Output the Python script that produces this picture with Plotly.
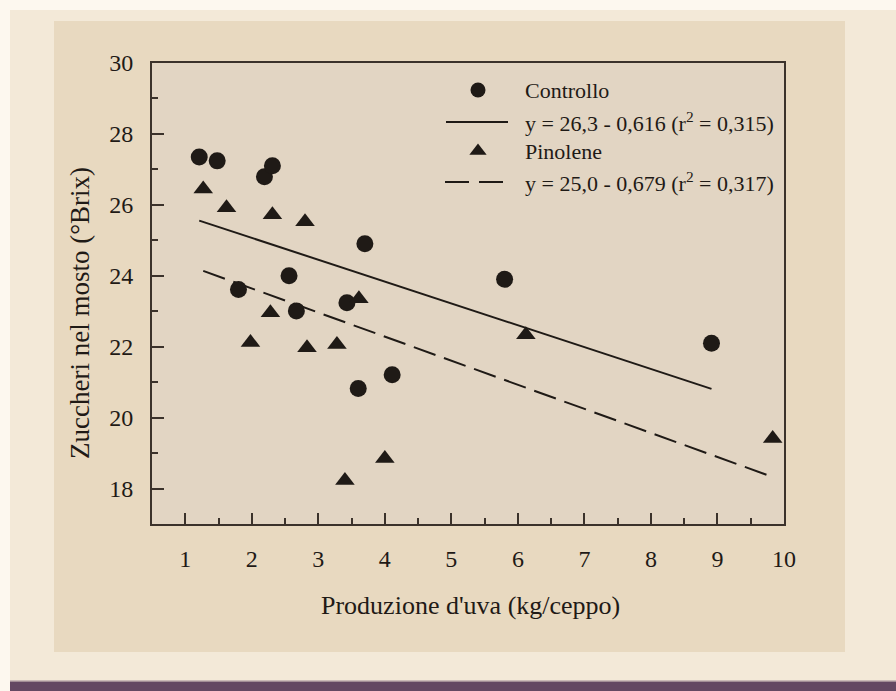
import plotly.graph_objects as go

# ---------------- data ----------------
ctrl_x = [1.21, 1.48, 2.19, 2.31, 1.80, 2.56, 2.67, 3.43, 3.70, 3.60, 4.11, 5.80, 8.91]
ctrl_y = [27.35, 27.24, 26.79, 27.10, 23.61, 24.00, 23.01, 23.24, 24.90, 20.82, 21.21, 23.90, 22.10]
pino_x = [1.27, 1.62, 2.31, 2.80, 3.61, 2.28, 1.98, 2.83, 3.28, 4.00, 3.40, 6.12, 9.83]
pino_y = [26.45, 25.92, 25.72, 25.52, 23.35, 22.96, 22.12, 21.97, 22.06, 18.85, 18.23, 22.34, 19.41]
reg_ctrl = [26.3, -0.616]   # intercept, slope
reg_pino = [25.0, -0.679]
x_ticks = [1, 2, 3, 4, 5, 6, 7, 8, 9, 10]
y_ticks = [18, 20, 22, 24, 26, 28, 30]
legend_labels = ["Controllo", "y = 26,3 - 0,616 (r<sup>2</sup> = 0,315)",
                 "Pinolene", "y = 25,0 - 0,679 (r<sup>2</sup> = 0,317)"]
x_title = "Produzione d'uva (kg/ceppo)"
y_title = "Zuccheri nel mosto (°Brix)"

# ---------------- layout geometry ----------------
W, H = 896, 691
L, R, T, B = 152, 784, 63, 524
FONT = "Liberation Serif"
INK = "#1f1a16"
AX = "#3b322b"


def px(xp):
    return (xp - L) / (R - L)


def py(yp):
    return (B - yp) / (B - T)


fig = go.Figure()

# regression lines
def reg_line(xs, coef):
    x0, x1 = min(xs), max(xs)
    return [x0, x1], [coef[0] + coef[1] * x0, coef[0] + coef[1] * x1]

lx, ly = reg_line(ctrl_x, reg_ctrl)
fig.add_trace(go.Scatter(x=lx, y=ly, mode="lines", line=dict(color=INK, width=2),
                         showlegend=False, hoverinfo="skip"))
lx, ly = reg_line(pino_x, reg_pino)
fig.add_trace(go.Scatter(x=lx, y=ly, mode="lines", line=dict(color=INK, width=2, dash="23px,9px"),
                         showlegend=False, hoverinfo="skip"))

fig.add_trace(go.Scatter(x=ctrl_x, y=ctrl_y, mode="markers",
                         marker=dict(symbol="circle", size=17, color=INK),
                         showlegend=False, name="Controllo"))
fig.add_trace(go.Scatter(x=pino_x, y=pino_y, mode="markers",
                         marker=dict(symbol="triangle-up", size=17, color=INK),
                         showlegend=False, name="Pinolene"))

# ---- custom legend on a pixel-based overlay axis ----
leg_sym_x = 478
leg_text_x = 523
leg_rows = [90, 122, 151, 182]
fig.add_trace(go.Scatter(x=[leg_sym_x], y=[leg_rows[0]], xaxis="x2", yaxis="y2", mode="markers",
                         marker=dict(symbol="circle", size=15, color=INK),
                         showlegend=False, hoverinfo="skip"))
fig.add_trace(go.Scatter(x=[leg_sym_x], y=[leg_rows[2]], xaxis="x2", yaxis="y2", mode="markers",
                         marker=dict(symbol="triangle-up", size=15, color=INK),
                         showlegend=False, hoverinfo="skip"))

shapes = []
# backgrounds
shapes.append(dict(type="rect", xref="paper", yref="paper", x0=px(10), x1=px(896), y0=py(10), y1=py(681),
                   fillcolor="#f3e9d8", line=dict(width=0), layer="below"))
shapes.append(dict(type="rect", xref="paper", yref="paper", x0=px(10), x1=px(896), y0=py(681), y1=py(691),
                   fillcolor="#644862", line=dict(width=0), layer="below"))
shapes.append(dict(type="rect", xref="paper", yref="paper", x0=px(10), x1=px(896), y0=py(680.5), y1=py(682),
                   fillcolor="#a38e96", line=dict(width=0), layer="below"))
shapes.append(dict(type="rect", xref="paper", yref="paper", x0=px(54), x1=px(845), y0=py(21), y1=py(652),
                   fillcolor="#e8d9c0", line=dict(width=0), layer="below"))
shapes.append(dict(type="rect", xref="paper", yref="paper", x0=0, x1=1, y0=0, y1=1,
                   fillcolor="#e2d5c3", line=dict(width=0), layer="below"))
# legend line samples
shapes.append(dict(type="line", xref="x2", yref="y2", x0=446, x1=508, y0=leg_rows[1], y1=leg_rows[1],
                   line=dict(color=INK, width=2)))
shapes.append(dict(type="line", xref="x2", yref="y2", x0=445, x1=503, y0=leg_rows[3], y1=leg_rows[3],
                   line=dict(color=INK, width=2, dash="24px,10px")))

annotations = []
for lab, row in zip(legend_labels, leg_rows):
    annotations.append(dict(text=lab, xref="x2", yref="y2", x=leg_text_x, y=row, xanchor="left",
                            yanchor="middle", showarrow=False, font=dict(family=FONT, size=22, color=INK)))
annotations.append(dict(text=x_title, xref="paper", yref="paper", x=px(470), y=py(605), xanchor="center",
                        yanchor="middle", showarrow=False, font=dict(family=FONT, size=26, color=INK)))
annotations.append(dict(text=y_title, xref="paper", yref="paper", x=px(80), y=py(313), xanchor="center",
                        yanchor="middle", textangle=-90, showarrow=False,
                        font=dict(family=FONT, size=27, color=INK)))

axis_common = dict(showline=True, linecolor=AX, linewidth=2, mirror=True, ticks="inside",
                   tickwidth=2, tickcolor=AX, showgrid=False, zeroline=False,
                   tickfont=dict(family=FONT, size=24, color=INK))

fig.update_layout(
    width=W, height=H,
    margin=dict(l=L, r=W - R, t=T, b=H - B, pad=0),
    paper_bgcolor="#fdf8ef",
    plot_bgcolor="rgba(0,0,0,0)",
    xaxis=dict(range=[0.5, 10], tickvals=x_ticks, ticklen=11, ticklabelstandoff=12,
               minor=dict(dtick=0.5, ticklen=6, ticks="inside", tickwidth=2, tickcolor=AX),
               **axis_common),
    yaxis=dict(range=[17, 30], tickvals=y_ticks, ticklen=12, ticklabelstandoff=12,
               minor=dict(dtick=1, ticklen=6, ticks="inside", tickwidth=2, tickcolor=AX),
               **axis_common),
    xaxis2=dict(overlaying="x", anchor="y2", range=[L, R], visible=False, fixedrange=True),
    yaxis2=dict(overlaying="y", anchor="x2", range=[B, T], visible=False, fixedrange=True),
    shapes=shapes,
    annotations=annotations,
    showlegend=False,
)

fig.write_html("out.html")
